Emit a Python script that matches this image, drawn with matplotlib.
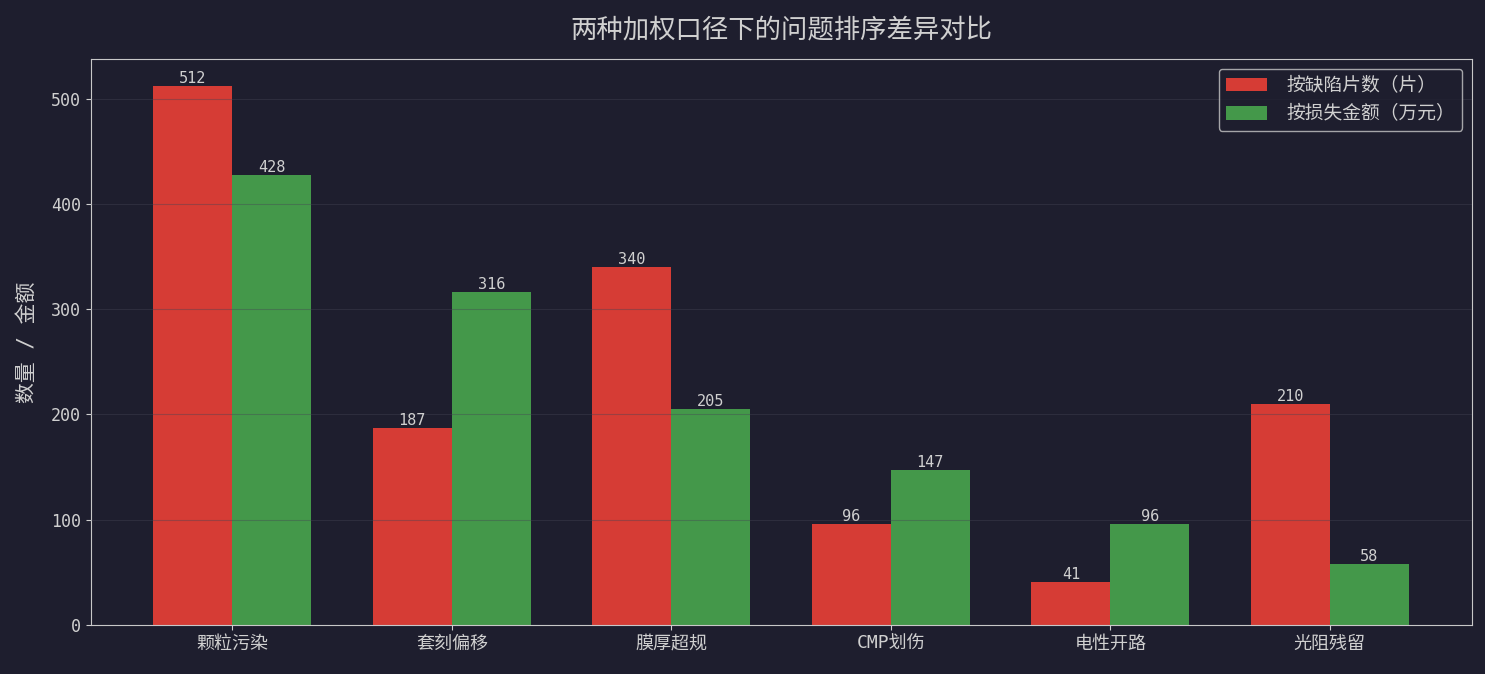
import matplotlib

matplotlib.use("Agg")
import matplotlib.pyplot as plt
import numpy as np

# monospace latin first, CJK glyphs fall back to Noto
plt.rcParams["font.family"] = ["DejaVu Sans Mono", "Noto Sans CJK SC"]

categories = ["颗粒污染", "套刻偏移", "膜厚超规", "CMP划伤", "电性开路", "光阻残留"]
defect_pieces = [512, 187, 340, 96, 41, 210]
loss_amount = [428, 316, 205, 147, 96, 58]
series_labels = ["按缺陷片数（片）", "按损失金额（万元）"]

BG = "#1e1e2e"
FG = "#d0d0d0"
RED = "#d63c35"
GREEN = "#44984a"

fig, ax = plt.subplots(figsize=(14.85, 6.74), dpi=100)
fig.patch.set_facecolor(BG)
ax.set_facecolor(BG)

x = np.arange(len(categories))
width = 0.36
bars_a = ax.bar(x - width / 2, defect_pieces, width, color=RED, label=series_labels[0], zorder=1)
bars_b = ax.bar(x + width / 2, loss_amount, width, color=GREEN, label=series_labels[1], zorder=1)

for bars in (bars_a, bars_b):
    for b in bars:
        ax.text(b.get_x() + b.get_width() / 2, b.get_height(), f"{int(b.get_height())}",
                ha="center", va="bottom", color=FG, fontsize=11)

ax.set_xticks(x)
ax.set_xticklabels(categories, fontsize=13, color=FG)
ax.tick_params(axis="y", labelsize=12, colors=FG)
ax.tick_params(axis="x", colors=FG)
ax.set_ylim(0, max(defect_pieces) * 1.05)
ax.set_ylabel("数量 / 金额", fontsize=15, color=FG, labelpad=10)
ax.set_title("两种加权口径下的问题排序差异对比", fontsize=19, color=FG, pad=16)

ax.yaxis.grid(True, color="#444455", alpha=0.4, linewidth=0.8, zorder=3)
ax.set_axisbelow(False)
for s in ax.spines.values():
    s.set_color("#c8c8c8")

leg = ax.legend(fontsize=13.5, facecolor=BG, edgecolor="#c8c8c8", labelcolor=FG,
                loc="upper right", handlelength=2.2, handletextpad=1.0)

fig.subplots_adjust(left=0.061, right=0.991, top=0.912, bottom=0.073)
fig.savefig("out.png", dpi=100, facecolor=BG)
